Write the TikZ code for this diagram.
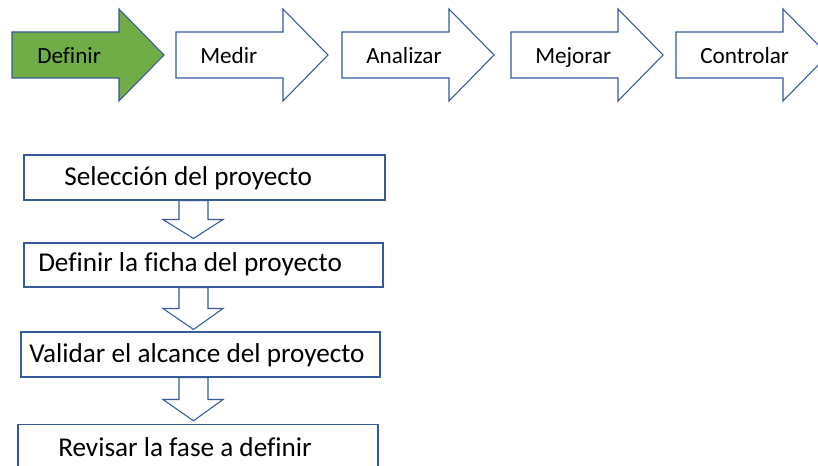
\documentclass[tikz,border=0pt]{standalone}
\usepackage{fontspec}
\setmainfont{Carlito}[Ligatures=NoCommon]
\usetikzlibrary{calc}
\definecolor{outl}{RGB}{55,90,155}
\definecolor{grn}{RGB}{112,173,71}
\tikzset{
  phase/.style={draw=outl, line width=0.8pt, fill=white, line join=miter},
  phaseactive/.style={phase, fill=grn},
  phasetxt/.style={anchor=base west, inner sep=0pt, font=\fontsize{17.4pt}{20pt}\selectfont},
  stepbox/.style={draw=outl, line width=0.8pt, fill=white, inner sep=0pt, minimum height=33.75pt},
  steptxt/.style={anchor=base west, inner sep=0pt, font=\fontsize{20.4pt}{24pt}\selectfont},
  downarrow/.style={draw=outl, line width=0.8pt, fill=white, line join=miter},
}
\begin{document}
\begin{tikzpicture}[x=0.75pt,y=-0.75pt]
\useasboundingbox (0,0) rectangle (818,466);
\clip (0,0) rectangle (818,466);
\fill[white] (0,0) rectangle (818,466);
% top phase arrows
\foreach \L/\sty in {12/phaseactive,176/phase,342/phase,511/phase,676/phase}{
  \draw[\sty] (\L,32) -- ++(107,0) -- ++(0,-23) -- ++(45,46) -- ++(-45,46) -- ++(0,-23) -- (\L,78) -- cycle;
}
\node[phasetxt] (p1) at (37,63.5) {Definir};
\node[phasetxt] (p2) at (200,63.5) {Medir};
\node[phasetxt] (p3) at (366,63.5) {Analizar};
\node[phasetxt] (p4) at (535,63.5) {Mejorar};
\node[phasetxt] (p5) at (700,63.5) {Controlar};
% step boxes
\node[stepbox, minimum width=270.75pt] (b1) at (204.5,177.5) {};
\node[stepbox, minimum width=269.25pt, minimum height=33pt] (b2) at (203.5,265) {};
\node[stepbox, minimum width=269.25pt] (b3) at (200.5,354.5) {};
\node[stepbox, minimum width=270pt, minimum height=40pt] (b4) at (198,451) {};
\node[steptxt] (t1) at (64,186) {Selección del proyecto};
\node[steptxt] (t2) at (38,272) {Definir la ficha del proyecto};
\node[steptxt] (t3) at (29,363) {Validar el alcance del proyecto};
\node[steptxt] (t4) at (58,457) {Revisar la fase a definir};
% hollow down arrows between boxes
\draw[downarrow] ($(b1.south)+(179-204.5,0)$) -- ++(29,0) -- ($(b1.south)+(208-204.5,219-200)$) -- ++(15,0) -- ($(b2.north)+(193.5-203.5,-4)$) -- ($(b1.south)+(163-204.5,219-200)$) -- ++(16,0) -- cycle;
\draw[downarrow] ($(b2.south)+(179-203.5,0)$) -- ++(29,0) -- ($(b2.south)+(208-203.5,308-287)$) -- ++(15,0) -- ($(b3.north)+(193.5-200.5,-2)$) -- ($(b2.south)+(163-203.5,308-287)$) -- ++(16,0) -- cycle;
\draw[downarrow] ($(b3.south)+(179-200.5,0)$) -- ++(29,0) -- ($(b3.south)+(208-200.5,399-377)$) -- ++(15,0) -- ($(b4.north)+(193.5-198,-3)$) -- ($(b3.south)+(163-200.5,399-377)$) -- ++(16,0) -- cycle;
\end{tikzpicture}
\end{document}
